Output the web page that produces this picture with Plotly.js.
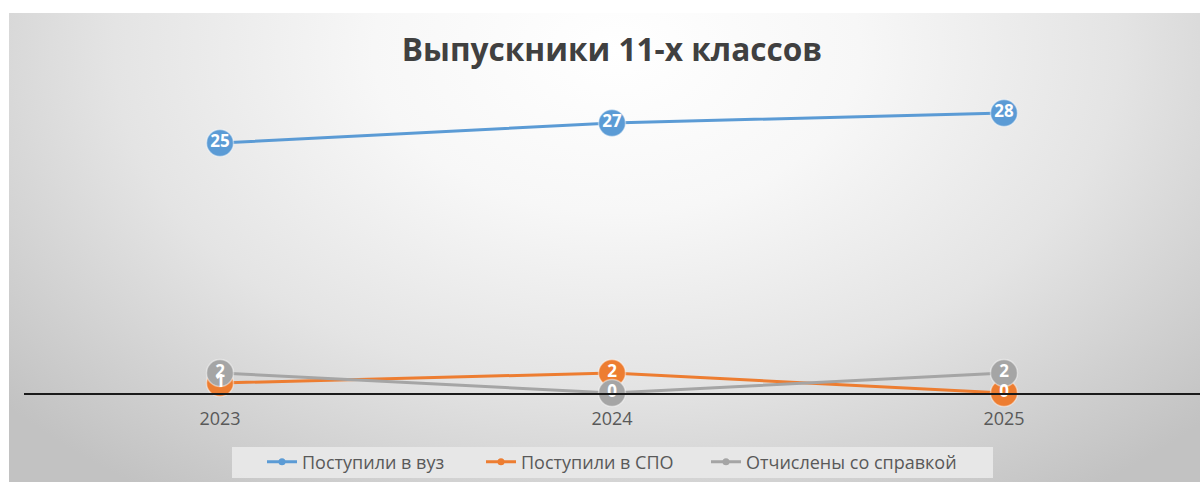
<!DOCTYPE html>
<html>
<head>
<meta charset="utf-8">
<script src="https://cdn.plot.ly/plotly-3.0.1.min.js"></script>
<style>
  html, body { margin: 0; padding: 0; background: #ffffff; }
  #wrap { position: relative; width: 1200px; height: 482px; overflow: hidden; }
  #bg { position: absolute; left: 9px; top: 13px; width: 1191px; height: 469px;
        background: radial-gradient(ellipse 68% 115% at 51% 8%, #ffffff 0%, #f7f7f7 30%, #e4e4e4 62%, #c2c2c2 100%); }
  #chart { position: absolute; left: 0; top: 0; width: 1200px; height: 482px; }
</style>
</head>
<body>
<div id="wrap"><div id="bg"></div><div id="chart"></div></div>
<script>
const years = ['2023', '2024', '2025'];
const seriesNames = ['Поступили в вуз', 'Поступили в СПО', 'Отчислены со справкой'];
const vuz = [25, 27, 28];
const spo = [1, 2, 0];
const sprav = [2, 0, 2];
const colors = ['#5B9BD5', '#ED7D31', '#A5A5A5'];
const values = [vuz, spo, sprav];

const FONT = '"Open Sans", "DejaVu Sans", sans-serif';
const traces = [];

// lines + markers (no legend)
values.forEach((v, i) => {
  traces.push({
    type: 'scatter', mode: 'lines+markers', x: years, y: v, name: seriesNames[i],
    showlegend: false, cliponaxis: false, hoverinfo: 'skip',
    line: { color: colors[i], width: 3 },
    marker: { color: colors[i], size: 27, line: { color: 'rgba(255,255,255,0.45)', width: 1.5 } }
  });
});
// data labels on top
values.forEach((v, i) => {
  traces.push({
    type: 'scatter', mode: 'text', x: years, y: v, text: v.map(String),
    showlegend: false, cliponaxis: false, hoverinfo: 'skip',
    textposition: 'middle center',
    textfont: { family: FONT, size: 17, color: '#ffffff', weight: 'bold' }
  });
});
// legend entries (one legend per series so each sits where the reference has it)
const legendIds = ['legend', 'legend2', 'legend3'];
values.forEach((v, i) => {
  traces.push({
    type: 'scatter', mode: 'lines+markers', x: [null], y: [null], name: seriesNames[i],
    showlegend: true, hoverinfo: 'skip', legend: legendIds[i],
    line: { color: colors[i], width: 3 },
    marker: { color: colors[i], size: 7 }
  });
});

function legendAt(px) {
  return {
    orientation: 'h', x: px / 1200, xanchor: 'left', xref: 'container',
    y: 1 - 462 / 482, yref: 'container', yanchor: 'middle',
    bgcolor: 'rgba(0,0,0,0)', borderwidth: 0,
    font: { family: FONT, size: 18, color: '#595959' },
    itemwidth: 30
  };
}

const layout = {
  width: 1200, height: 482,
  margin: { l: 24, r: 0, t: 93, b: 89, pad: 0 },
  paper_bgcolor: 'rgba(0,0,0,0)',
  plot_bgcolor: 'rgba(0,0,0,0)',
  font: { family: FONT, color: '#595959', size: 18 },
  title: {
    text: 'Выпускники 11-х классов',
    font: { family: FONT, size: 31.6, color: '#404040', weight: 'bold' },
    x: 0.5, xref: 'paper', xanchor: 'center',
    y: 1 - 50 / 482, yref: 'container', yanchor: 'middle'
  },
  xaxis: {
    type: 'category', range: [-0.5, 2.5], showgrid: false, zeroline: false,
    showline: true, linecolor: '#1a1a1a', linewidth: 1.5,
    ticks: '', ticklabelstandoff: 9,
    tickfont: { family: FONT, size: 18, color: '#595959' }
  },
  yaxis: {
    range: [0, 30], showgrid: false, zeroline: false, showline: false,
    showticklabels: false, ticks: ''
  },
  shapes: [{
    type: 'rect', layer: 'below', xref: 'paper', yref: 'paper',
    x0: (232 - 24) / 1176, x1: (993 - 24) / 1176,
    y0: (393 - 478) / 300, y1: (393 - 447) / 300,
    fillcolor: 'rgba(232,232,232,0.95)', line: { width: 0 }
  }],
  showlegend: true,
  legend: legendAt(262),
  legend2: legendAt(481),
  legend3: legendAt(706)
};

Plotly.newPlot('chart', traces, layout, { displayModeBar: false, staticPlot: true });
</script>
</body>
</html>
